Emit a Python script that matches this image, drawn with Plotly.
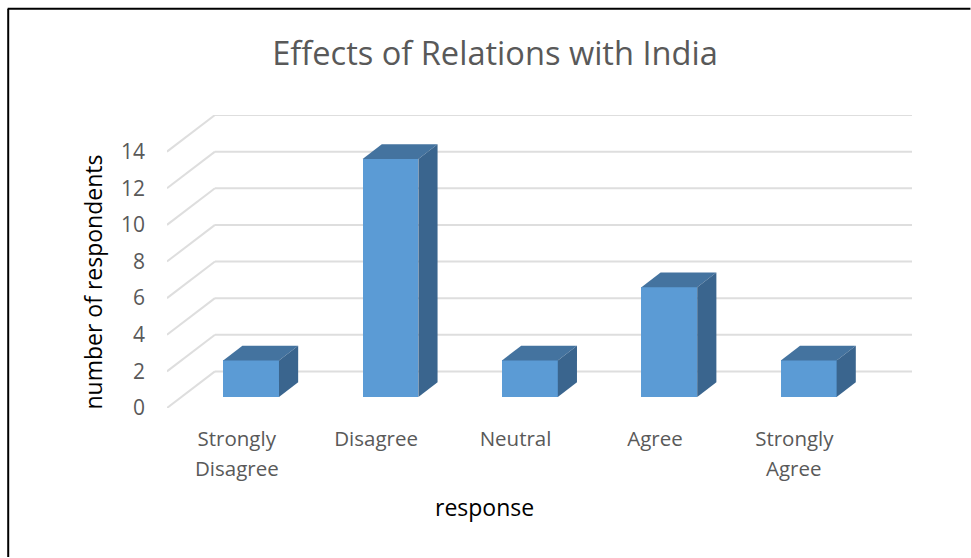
import plotly.graph_objects as go

# Survey responses
categories = ["Strongly Disagree", "Disagree", "Neutral", "Agree", "Strongly Agree"]
first_lines = ["Strongly", "Disagree", "Neutral", "Agree", "Strongly"]
second_lines = ["Disagree", "", "", "", "Agree"]
respondents = [2, 13, 2, 6, 2]
y_ticks = [0, 2, 4, 6, 8, 10, 12, 14]

# Oblique projection of the depth axis, in data units
DEPTH_X = 0.344
DEPTH_Y = 2.0
GAP_FRAC = 0.3
BAR_FRAC = 0.4
BAR_WIDTH = 0.4
X_MIN, X_MAX = -0.5, 4.844
Y_MIN, Y_MAX = 0, 16

WIDTH, HEIGHT = 971, 558
LEFT, RIGHT, TOP, BOTTOM = 166.5, 912.5, 114.5, 408.5
FONT = "Open Sans"
TEXT_GREY = "#595959"
GRID = "#DEDEDE"
FRONT, TOP_FACE, SIDE_FACE = "#5B9BD5", "#44739F", "#3A658E"


def paper_x(px):
    return (px - LEFT) / (RIGHT - LEFT)


def paper_y(py):
    return (BOTTOM - py) / (BOTTOM - TOP)


fig = go.Figure()

x_front = [i + GAP_FRAC * DEPTH_X for i in range(len(respondents))]
base = GAP_FRAC * DEPTH_Y
dx, dy = BAR_FRAC * DEPTH_X, BAR_FRAC * DEPTH_Y

# Front faces
fig.add_trace(go.Bar(
    x=x_front, y=respondents, base=[base] * len(respondents), width=BAR_WIDTH,
    marker=dict(color=FRONT, line=dict(width=0)), hoverinfo="skip", showlegend=False,
))

# Top and side faces of each column
for xc, value in zip(x_front, respondents):
    x0, x1 = xc - BAR_WIDTH / 2, xc + BAR_WIDTH / 2
    y0, y1 = base, base + value
    fig.add_trace(go.Scatter(
        x=[x0, x1, x1 + dx, x0 + dx, x0], y=[y1, y1, y1 + dy, y1 + dy, y1],
        mode="lines", fill="toself", fillcolor=TOP_FACE, line=dict(width=0),
        hoverinfo="skip", showlegend=False,
    ))
    fig.add_trace(go.Scatter(
        x=[x1, x1 + dx, x1 + dx, x1, x1], y=[y0, y0 + dy, y1 + dy, y1, y0],
        mode="lines", fill="toself", fillcolor=SIDE_FACE, line=dict(width=0),
        hoverinfo="skip", showlegend=False,
    ))

# Gridlines on the floor edge and back wall, kept beneath the columns
shapes = []
for t in y_ticks:
    grid_line = dict(color=GRID, width=2)
    shapes.append(dict(type="line", xref="x", yref="y", layer="below",
                       x0=X_MIN, y0=t, x1=X_MIN + DEPTH_X, y1=t + DEPTH_Y, line=grid_line))
    shapes.append(dict(type="line", xref="x", yref="y", layer="below",
                       x0=X_MIN + DEPTH_X, y0=t + DEPTH_Y, x1=X_MAX, y1=t + DEPTH_Y, line=grid_line))

# Frame along the top and left edges of the page
frame = dict(color="#000000", width=2)
shapes.append(dict(type="line", xref="paper", yref="paper", layer="above",
                   x0=paper_x(7), y0=paper_y(8), x1=paper_x(971), y1=paper_y(8), line=frame))
shapes.append(dict(type="line", xref="paper", yref="paper", layer="above",
                   x0=paper_x(7.5), y0=paper_y(8), x1=paper_x(7.5), y1=paper_y(558), line=frame))

annotations = []
# Second line of the wrapped category labels
for i, text in enumerate(second_lines):
    if text:
        annotations.append(dict(
            text=text, x=i, xref="x", y=paper_y(469), yref="paper",
            xanchor="center", yanchor="middle", showarrow=False,
            font=dict(family=FONT, size=20.5, color=TEXT_GREY),
        ))
# Axis titles
annotations.append(dict(
    text="number of respondents", x=paper_x(92), y=paper_y(282), xref="paper", yref="paper",
    textangle=-90, xanchor="center", yanchor="middle", showarrow=False,
    font=dict(family=FONT, size=23, color="#000000"),
))
annotations.append(dict(
    text="response", x=paper_x(484), y=paper_y(508), xref="paper", yref="paper",
    xanchor="center", yanchor="middle", showarrow=False,
    font=dict(family=FONT, size=23, color="#000000"),
))

fig.update_layout(
    width=WIDTH, height=HEIGHT, autosize=False,
    margin=dict(l=LEFT, r=WIDTH - RIGHT, t=TOP, b=HEIGHT - BOTTOM, pad=0),
    paper_bgcolor="#FFFFFF", plot_bgcolor="rgba(0,0,0,0)",
    title=dict(text="Effects of Relations with India", x=495 / WIDTH, y=1 - 54 / HEIGHT,
               xanchor="center", yanchor="middle",
               font=dict(family=FONT, size=32.6, color=TEXT_GREY)),
    shapes=shapes, annotations=annotations, bargap=0, showlegend=False,
    xaxis=dict(range=[X_MIN, X_MAX], tickmode="array", tickvals=list(range(len(categories))),
               ticktext=first_lines, showgrid=False, zeroline=False, showline=False,
               ticks="", ticklabelstandoff=16,
               tickfont=dict(family=FONT, size=20.5, color=TEXT_GREY)),
    yaxis=dict(range=[Y_MIN, Y_MAX], tickmode="array", tickvals=y_ticks, showgrid=False,
               zeroline=False, showline=False, ticks="", ticklabelstandoff=21,
               tickfont=dict(family=FONT, size=21, color=TEXT_GREY)),
)

fig.write_html("out.html", config={"displayModeBar": False})
